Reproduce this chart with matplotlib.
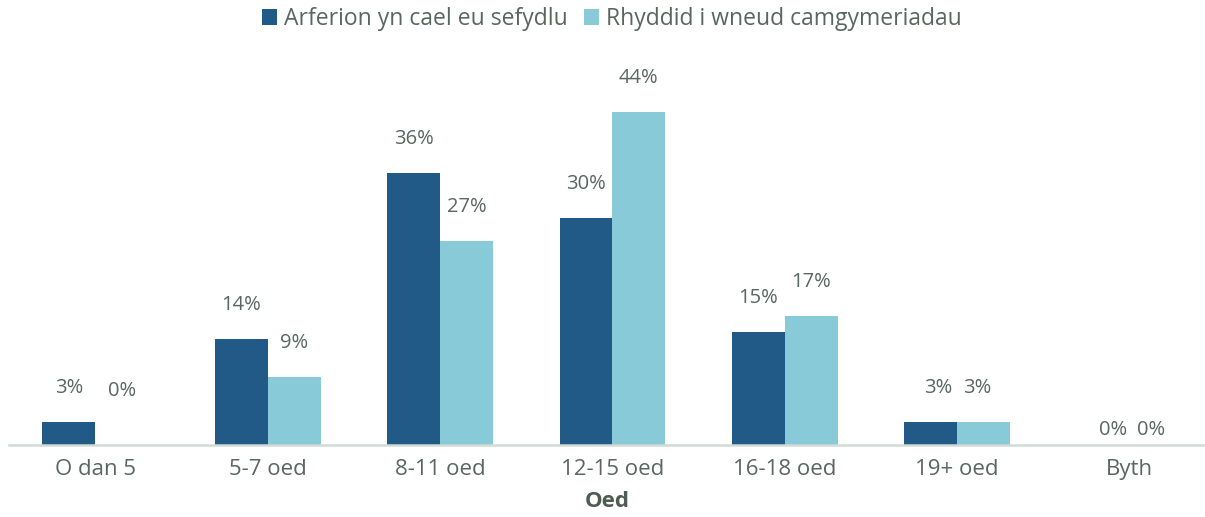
import matplotlib.pyplot as plt
import numpy as np

plt.rcParams['font.family'] = ['Open Sans', 'DejaVu Sans']

categories = ["O dan 5", "5-7 oed", "8-11 oed", "12-15 oed", "16-18 oed", "19+ oed", "Byth"]
arferion = [3, 14, 36, 30, 15, 3, 0]
rhyddid = [0, 9, 27, 44, 17, 3, 0]
series_names = ["Arferion yn cael eu sefydlu", "Rhyddid i wneud camgymeriadau"]

dark = "#215a87"
light = "#89cad9"
text_col = "#5a6660"

# label placement tweaks (points above bar top, horizontal shift in points)
label_dy = 24.5
label_fix = {(1, 0): (39, 0), (0, 5): (24.5, 5), (1, 5): (24.5, -5),
             (0, 6): (11, 7), (1, 6): (11, -4)}

fig = plt.figure(figsize=(12.05, 5.17), dpi=100)
ax = fig.add_axes([9 / 1205, 1 - 445 / 517, 1 - 9 / 1205, (445 - 67) / 517])

x = np.arange(len(categories))
w = 0.307
b1 = ax.bar(x - w / 2, arferion, w, color=dark, label=series_names[0])
b2 = ax.bar(x + w / 2, rhyddid, w, color=light, label=series_names[1])

for s, bars in enumerate([b1, b2]):
    for i, bar in enumerate(bars):
        dy, dx = label_fix.get((s, i), (label_dy, 0))
        ax.annotate("{}%".format(int(bar.get_height())),
                    (bar.get_x() + bar.get_width() / 2, bar.get_height()),
                    xytext=(dx, dy), textcoords="offset points",
                    ha="center", va="center", fontsize=14.5, color=text_col)

ax.set_xlim(-0.5, 6.437)
ax.set_ylim(0, 50)
ax.set_xticks(x)
ax.set_xticklabels(categories, fontsize=16, color=text_col)
ax.tick_params(axis="x", length=0, pad=10)
ax.set_yticks([])
for side in ["top", "right", "left"]:
    ax.spines[side].set_visible(False)
ax.spines["bottom"].set_color("#d3dad6")
ax.spines["bottom"].set_linewidth(1.8)
ax.set_xlabel("Oed", fontsize=16, fontweight="bold", color="#4f5b55", labelpad=8)

fig.legend(handles=[b1, b2], loc="center", bbox_to_anchor=(612 / 1205, 1 - 19 / 517),
           ncol=2, frameon=False, fontsize=16.5, labelcolor=text_col,
           handlelength=0.65, handleheight=0.65, handletextpad=0.3, columnspacing=0.7)

fig.savefig("out.png", dpi=100, facecolor="white")
